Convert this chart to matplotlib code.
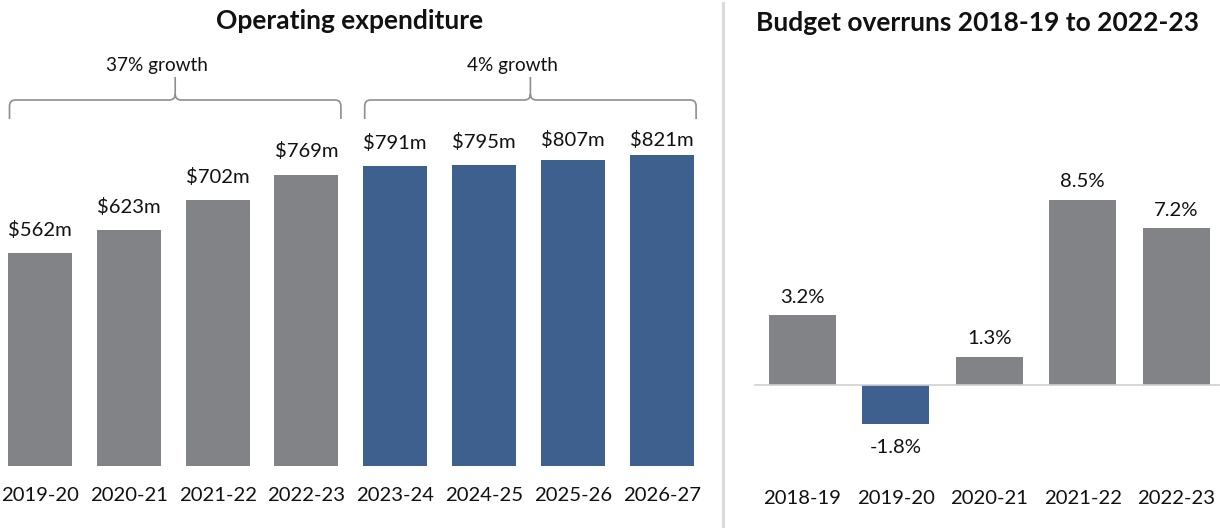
import matplotlib
matplotlib.use("Agg")
import matplotlib.pyplot as plt
from matplotlib.path import Path
from matplotlib.patches import PathPatch
from matplotlib.lines import Line2D

plt.rcParams['font.family'] = ['Lato', 'DejaVu Sans']

# Operating expenditure ($m)
opex_years = ["2019-20", "2020-21", "2021-22", "2022-23",
              "2023-24", "2024-25", "2025-26", "2026-27"]
opex_values = [562, 623, 702, 769, 791, 795, 807, 821]
opex_labels = ["$562m", "$623m", "$702m", "$769m",
               "$791m", "$795m", "$807m", "$821m"]
opex_forecast = [False, False, False, False, True, True, True, True]

# Growth brackets: (first bar index, last bar index, text)
growth_groups = [(0, 3, "37% growth"), (4, 7, "4% growth")]

# Budget overruns (%)
overrun_years = ["2018-19", "2019-20", "2020-21", "2021-22", "2022-23"]
overrun_values = [3.2, -1.8, 1.3, 8.5, 7.2]
overrun_labels = ["3.2%", "-1.8%", "1.3%", "8.5%", "7.2%"]

GREY = "#828387"
BLUE = "#3E608F"
BRACE = "#8e8e8e"
TEXT = "#111111"

LABEL_FS = 14.6
TICK_FS = 14.6
NOTE_FS = 13.7
TITLE_FS = 19

W, H = 1220, 528
fig = plt.figure(figsize=(W / 100, H / 100), dpi=100)


def px_axes(x0, x1, ytop, ybot):
    return fig.add_axes([x0 / W, (H - ybot) / H, (x1 - x0) / W, (ybot - ytop) / H])


# ---------------- Left panel: operating expenditure ----------------
axL = px_axes(0, 700, 50, 466)
pitchL = 88.8
yscaleL = 0.379  # px per $m
axL.set_xlim(-40 / pitchL, (700 - 40) / pitchL)
axL.set_ylim(0, 416 / yscaleL)
xs = list(range(len(opex_values)))
barw = 64 / pitchL
colors = [BLUE if f else GREY for f in opex_forecast]
axL.bar(xs, opex_values, width=barw, color=colors, edgecolor='none')

label_ceiling = 860
for x, v, lab in zip(xs, opex_values, opex_labels):
    y = min(v + 61, label_ceiling)
    axL.text(x, y, lab, ha='center', va='center', fontsize=LABEL_FS, color=TEXT)

axL.set_xticks(xs)
axL.set_xticklabels(opex_years, fontsize=TICK_FS, color=TEXT)
axL.tick_params(axis='x', length=0, pad=15)
axL.set_yticks([])
for s in axL.spines.values():
    s.set_visible(False)


def brace(ax, x0, x1, yb, ym, yt, rx, ry):
    xt = (x0 + x1) / 2
    verts = [(x0, yb), (x0, ym - ry), (x0, ym), (x0 + rx, ym),
             (xt - rx, ym), (xt, ym), (xt, ym + ry), (xt, yt),
             (xt, ym + ry), (xt, ym), (xt + rx, ym),
             (x1 - rx, ym), (x1, ym), (x1, ym - ry), (x1, yb)]
    codes = [Path.MOVETO, Path.LINETO, Path.CURVE3, Path.CURVE3,
             Path.LINETO, Path.CURVE3, Path.CURVE3, Path.LINETO,
             Path.MOVETO, Path.CURVE3, Path.CURVE3,
             Path.LINETO, Path.CURVE3, Path.CURVE3, Path.LINETO]
    ax.add_patch(PathPatch(Path(verts, codes), facecolor='none',
                           edgecolor=BRACE, lw=1.2, clip_on=False))
    return xt


rpx = 6
for i0, i1, txt in growth_groups:
    x0 = i0 - barw / 2 + 1.5 / pitchL
    x1 = i1 + barw / 2 + 2.5 / pitchL
    xt = brace(axL, x0, x1, (466 - 119) / yscaleL, (466 - 100) / yscaleL,
               (466 - 77) / yscaleL, rpx / pitchL, rpx / yscaleL)
    axL.text(xt - 18 / pitchL, (466 - 66) / yscaleL, txt, ha='center',
             va='center', fontsize=NOTE_FS, color=TEXT)

fig.text(350 / W, 1 - 21 / H, "Operating expenditure", ha='center', va='center',
         fontsize=TITLE_FS, fontweight='bold', color=TEXT)

# ---------------- Right panel: budget overruns ----------------
axR = px_axes(740, 1220, 50, 466)
pitchR = 93.6
yscaleR = 21.8  # px per percentage point
zero_px = 385
axR.set_xlim(-(802 - 740) / pitchR, (1220 - 802) / pitchR)
axR.set_ylim(-(466 - zero_px) / yscaleR, (zero_px - 50) / yscaleR)
xr = list(range(len(overrun_values)))
rcolors = [BLUE if v < 0 else GREY for v in overrun_values]
axR.bar(xr, overrun_values, width=67 / pitchR, color=rcolors, edgecolor='none',
        zorder=2)
axR.axhline(0, xmin=15 / 480, xmax=1, color="#d0d0d0", lw=1.2, zorder=3)

for x, v, lab in zip(xr, overrun_values, overrun_labels):
    off = 18 if v >= 0 else -23
    axR.annotate(lab, (x, v), xytext=(0, off * 0.72), textcoords='offset points',
                 ha='center', va='center', fontsize=LABEL_FS, color=TEXT)

axR.set_xticks(xr)
axR.set_xticklabels(overrun_years, fontsize=TICK_FS, color=TEXT)
axR.tick_params(axis='x', length=0, pad=17)
axR.set_yticks([])
for s in axR.spines.values():
    s.set_visible(False)

fig.text(977 / W, 1 - 23 / H, "Budget overruns 2018-19 to 2022-23", ha='center',
         va='center', fontsize=TITLE_FS, fontweight='bold', color=TEXT)

# Divider between the two panels
fig.add_artist(Line2D([723 / W, 723 / W], [0, 1 - 3 / H], color="#dadada",
                      lw=2.2, transform=fig.transFigure))

fig.savefig("out.png", dpi=100)
